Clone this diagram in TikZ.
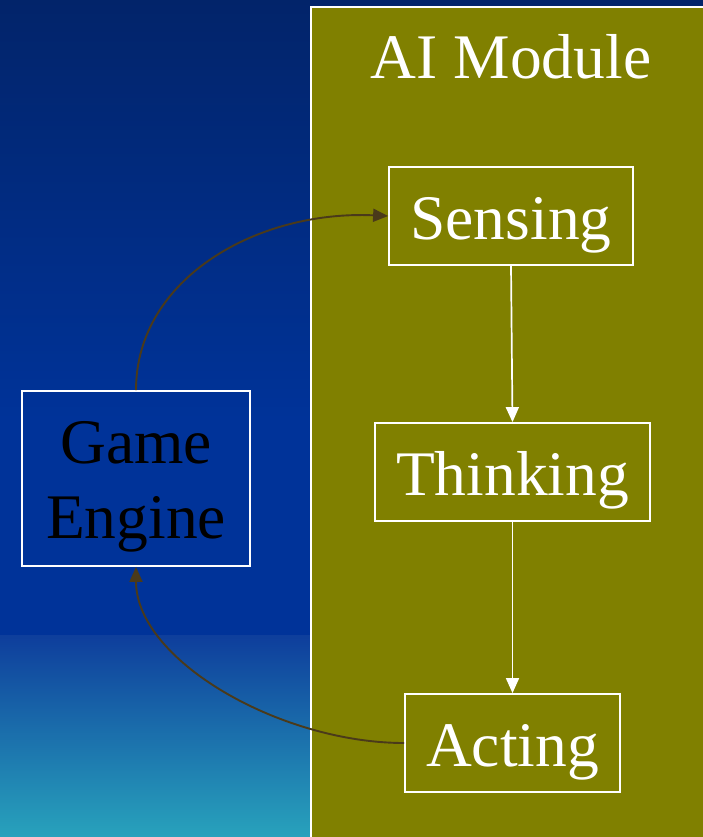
\documentclass[tikz,border=0pt]{standalone}
\usepackage{fontspec}
\setmainfont{Liberation Serif}
\usetikzlibrary{arrows.meta}
\definecolor{bgtop}{HTML}{02246A}
\definecolor{bgmid}{HTML}{003399}
\definecolor{bgmid2}{HTML}{0E3E9C}
\definecolor{bgbot}{HTML}{28A2BC}
\definecolor{olivefill}{HTML}{808000}
\definecolor{edgebrown}{HTML}{4A3A1A}
\tikzset{
  bigfont/.style={font=\fontsize{63.5}{76}\selectfont},
  box/.style={draw=white, line width=1.8pt, bigfont, text=white, inner sep=0pt,
    minimum height=98pt, text height=58.6pt, text depth=12.6pt},
  whiteedge/.style={draw=white, line width=1.7pt, -{Triangle[length=15pt,width=13pt]}},
  brownedge/.style={draw=edgebrown, line width=1.9pt, -{Triangle[length=15pt,width=13pt]}},
}
\begin{document}
\begin{tikzpicture}[x=1pt,y=-1pt]
\useasboundingbox (0,0) rectangle (703,837);
% background
\shade[top color=bgtop, bottom color=bgmid] (0,0) rectangle (703,420);
\fill[bgmid] (0,419) rectangle (703,636);
\shade[top color=bgmid2, bottom color=bgbot] (0,635) rectangle (703,837);
% cluster
\draw[white, line width=1.8pt, fill=olivefill] (311,7) rectangle (712,848);
\node[bigfont, text=white, anchor=base] (title) at (511,79) {AI Module};
% nodes
\node[box, minimum width=244pt] (sensing) at (511,216) {Sensing};
\node[box, minimum width=275pt] (thinking) at (512.5,472) {Thinking};
\node[box, minimum width=215pt] (acting) at (512.5,743) {Acting};
\node[draw=white, line width=1.8pt, minimum width=228pt, minimum height=175pt, inner sep=0pt] (ge) at (136,478.5) {};
\node[bigfont, text=black, anchor=base] (ge1) at (136,463) {Game};
\node[bigfont, text=black, anchor=base] (ge2) at (136,538) {Engine};
% edges
\draw[whiteedge] (sensing.south) -- (thinking.north);
\draw[whiteedge] (thinking.south) -- (acting.north);
\draw[brownedge] (ge.north) .. controls (136,278) and (258,210) .. (sensing.west);
\draw[brownedge] (acting.west) .. controls (280,743) and (136,660) .. (ge.south);
\end{tikzpicture}
\end{document}
